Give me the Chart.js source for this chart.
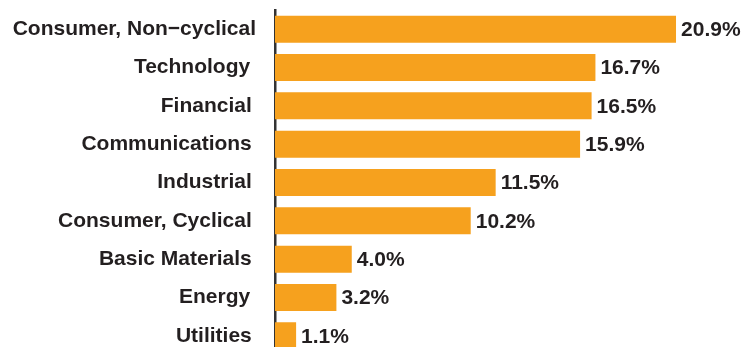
<!DOCTYPE html>
<html lang="en">
<head>
    <meta charset="UTF-8">
    <title>Sector Weights</title>
    <script src="https://cdn.jsdelivr.net/npm/chart.js"></script>
    <style>
        html, body {
            margin: 0;
            padding: 0;
            background: #ffffff;
            overflow: hidden;
        }
        canvas {
            display: block;
        }
    </style>
</head>
<body>
    <canvas id="sectorChart" width="744" height="356"></canvas>

    <script>
        // Data
        const sectors = [
            'Consumer, Non\u2212cyclical',
            'Technology ',
            'Financial\u2009',
            'Communications\u2009',
            'Industrial\u2009',
            'Consumer, Cyclical\u2009',
            'Basic Materials\u2009',
            'Energy ',
            'Utilities\u2009'
        ];
        const weights = [20.9, 16.7, 16.5, 15.9, 11.5, 10.2, 4.0, 3.2, 1.1];

        const barColor = '#F6A11E';
        const textColor = '#231F20';
        const fontFamily = "'Liberation Sans', Arial, Helvetica, sans-serif";

        // draws the value text at the end of every bar
        const valueLabels = {
            id: 'valueLabels',
            afterDatasetsDraw(chart) {
                const ctx = chart.ctx;
                const meta = chart.getDatasetMeta(0);
                ctx.save();
                ctx.font = 'bold 21px ' + fontFamily;
                ctx.fillStyle = textColor;
                ctx.textAlign = 'left';
                ctx.textBaseline = 'middle';
                meta.data.forEach(function (bar, i) {
                    ctx.fillText(weights[i].toFixed(1) + '%', bar.x + 5, bar.y + 1);
                });
                ctx.restore();
            }
        };

        const ctx = document.getElementById('sectorChart').getContext('2d');
        const sectorChart = new Chart(ctx, {
            type: 'bar',
            data: {
                labels: sectors,
                datasets: [{
                    data: weights,
                    backgroundColor: barColor,
                    borderWidth: 0,
                    barPercentage: 0.705,
                    categoryPercentage: 1.0
                }]
            },
            options: {
                indexAxis: 'y',
                responsive: false,
                maintainAspectRatio: false,
                animation: false,
                layout: {
                    padding: { top: 10, bottom: 1, left: 0, right: 8.5 }
                },
                plugins: {
                    legend: { display: false },
                    tooltip: { enabled: false }
                },
                scales: {
                    x: {
                        display: false,
                        min: 0,
                        max: 24
                    },
                    y: {
                        z: 1,
                        afterFit: function (scale) {
                            scale.width = 275;
                            scale.paddingTop = 0;
                            scale.paddingBottom = 0;
                        },
                        grid: {
                            display: false,
                            drawTicks: false
                        },
                        border: {
                            display: true,
                            color: '#333333',
                            width: 2.5
                        },
                        ticks: {
                            padding: 19,
                            color: textColor,
                            font: { family: fontFamily, size: 21, weight: 'bold' }
                        }
                    }
                }
            },
            plugins: [valueLabels]
        });
    </script>
</body>
</html>
